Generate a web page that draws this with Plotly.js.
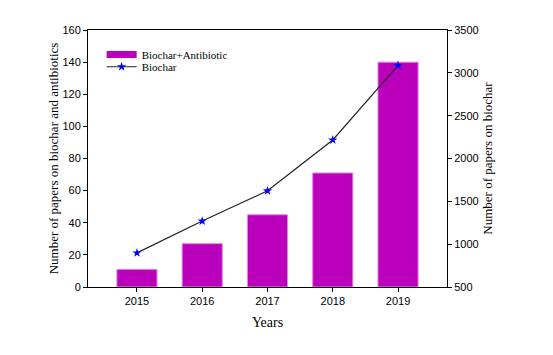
<!DOCTYPE html>
<html>
<head>
<meta charset="utf-8">
<script src="https://cdn.plot.ly/plotly-3.0.1.min.js"></script>
<style>html,body{margin:0;padding:0;background:#fff;}#chart{width:553px;height:355px;}</style>
</head>
<body>
<div id="chart"></div>
<script>
const years = ["2015", "2016", "2017", "2018", "2019"];
const biocharAntibiotic = [11, 27, 45, 71, 140];
const biochar = [898, 1270, 1623, 2216, 3086];
const barColor = "#BB00BB";

const serif = "Liberation Serif";
const sans = "Liberation Sans";

const traces = [
  {
    type: "bar",
    x: years,
    y: biocharAntibiotic,
    name: "Biochar+Antibiotic",
    width: 0.615,
    marker: {color: barColor, line: {color: "#E488E4", width: 1}},
    yaxis: "y",
    showlegend: false
  },
  {
    type: "scatter",
    mode: "lines",
    x: [null],
    y: [null],
    name: "Biochar+Antibiotic",
    line: {color: barColor, width: 7},
    yaxis: "y",
    legend: "legend",
    showlegend: true
  },
  {
    type: "scatter",
    mode: "lines+markers",
    x: years,
    y: biochar,
    name: "Biochar",
    line: {color: "#222222", width: 1.2},
    marker: {symbol: "star", color: "#0000FF", size: 7},
    yaxis: "y2",
    legend: "legend2"
  }
];

const legendCommon = {
  xanchor: "left", yanchor: "middle",
  font: {family: serif, size: 11, color: "#000"},
  bgcolor: "rgba(0,0,0,0)",
  itemwidth: 30
};

const layout = {
  width: 553,
  height: 355,
  margin: {l: 88, r: 106, t: 30, b: 68},
  paper_bgcolor: "#ffffff",
  plot_bgcolor: "#ffffff",
  showlegend: true,
  legend: Object.assign({x: 0.038, y: 0.905}, legendCommon),
  legend2: Object.assign({x: 0.038, y: 0.857}, legendCommon),
  xaxis: {
    type: "category",
    range: [-0.75, 4.75],
    showline: true, linecolor: "#000", linewidth: 1,
    mirror: true,
    ticks: "outside", ticklen: 4, tickcolor: "#000",
    tickfont: {family: sans, size: 11, color: "#000"},
    showgrid: false, zeroline: false,
    title: {text: "Years", font: {family: serif, size: 14, color: "#000"}, standoff: 10}
  },
  yaxis: {
    range: [0, 160],
    tickvals: [0, 20, 40, 60, 80, 100, 120, 140, 160],
    showline: true, linecolor: "#000", linewidth: 1,
    ticks: "outside", ticklen: 4, tickcolor: "#000",
    tickfont: {family: sans, size: 11, color: "#000"},
    showgrid: false, zeroline: false,
    title: {text: "Number of papers on biochar and antibiotics", font: {family: serif, size: 13, color: "#000"}, standoff: 0}
  },
  yaxis2: {
    overlaying: "y",
    side: "right",
    range: [500, 3500],
    tickvals: [500, 1000, 1500, 2000, 2500, 3000, 3500],
    showline: true, linecolor: "#000", linewidth: 1,
    ticks: "outside", ticklen: 4, tickcolor: "#000",
    tickfont: {family: sans, size: 11, color: "#000"},
    showgrid: false, zeroline: false,
    title: {text: "Number of papers on biochar", font: {family: serif, size: 13, color: "#000"}, standoff: 5}
  }
};

Plotly.newPlot("chart", traces, layout, {staticPlot: true, displayModeBar: false});
</script>
</body>
</html>
